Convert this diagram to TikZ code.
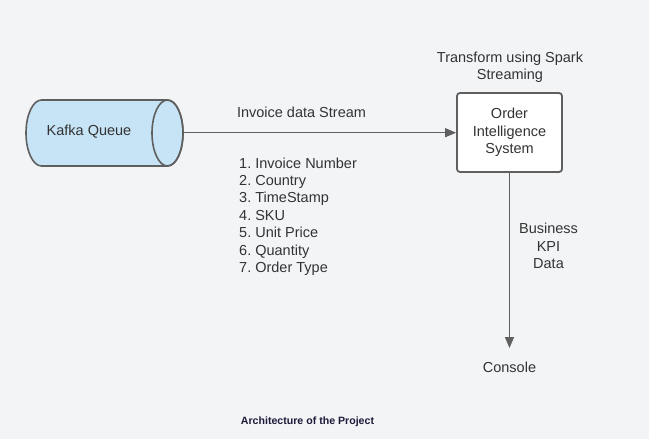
\documentclass[tikz,border=0pt]{standalone}
\usepackage{fontspec}
\setmainfont{Liberation Sans}
\usetikzlibrary{arrows.meta}
\frenchspacing
\definecolor{bg}{HTML}{F3F4F6}
\definecolor{txt}{HTML}{333333}
\definecolor{edge}{HTML}{5F5F5F}
\definecolor{cylfill}{HTML}{C6E4F5}
\definecolor{cap}{HTML}{1B1B3A}
\tikzset{
  lbl/.style={text=txt, font=\fontsize{14.5}{17.4}\selectfont, align=center, inner sep=0pt},
  conn/.style={draw=edge, line width=1.3pt, -{Triangle[length=11pt,width=9pt]}},
  procbox/.style={draw=edge, line width=1.8pt, fill=white, rounded corners=3pt, minimum width=105pt, minimum height=79pt, inner sep=0pt},
}
\begin{document}
\begin{tikzpicture}[x=1pt,y=-1pt]
\fill[bg] (0,0) rectangle (649,439);
\useasboundingbox (0,0) rectangle (649,439);
% cylinder
\filldraw[fill=cylfill, draw=edge, line width=1.6pt]
  (167.5,100) -- (41.5,100) arc[start angle=-90, end angle=-270, x radius=15.5, y radius=33] -- (167.5,166)
  arc[start angle=90, end angle=-90, x radius=15.5, y radius=33] -- cycle;
\draw[draw=edge, line width=1.6pt] (167.5,133) ellipse[x radius=15.5, y radius=33];
\coordinate (kafkaR) at (183,132.7);
\node[lbl] (kafka) at (89,131.5) {Kafka Queue};
% box
\node[procbox] (ois) at (509.5,132.5) {};
\node[lbl] (oistext) at (509.5,132.5) {Order\\Intelligence\\System};
\node[lbl] (spark) at (510,67) {Transform using Spark\\Streaming};
% arrows
\draw[conn] (kafkaR) -- (ois.west |- kafkaR);
\node[lbl] (stream) at (301.5,112.5) {Invoice data Stream};
\node[lbl, align=left, anchor=west] (list) at (239,216.5) {1. Invoice Number\\2. Country\\3. TimeStamp\\4. SKU\\5. Unit Price\\6. Quantity\\7. Order Type};
\coordinate (consoleTop) at (509.5,348);
\draw[conn] (ois.south) -- (consoleTop);
\node[lbl] (kpi) at (548.5,246) {Business\\KPI\\Data};
\node[lbl] (console) at (509.5,367.5) {Console};
\node[text=cap, font=\fontsize{10.6}{12}\selectfont\bfseries, inner sep=0pt] (caption) at (307.5,421.5) {Architecture of the Project};
\end{tikzpicture}
\end{document}
